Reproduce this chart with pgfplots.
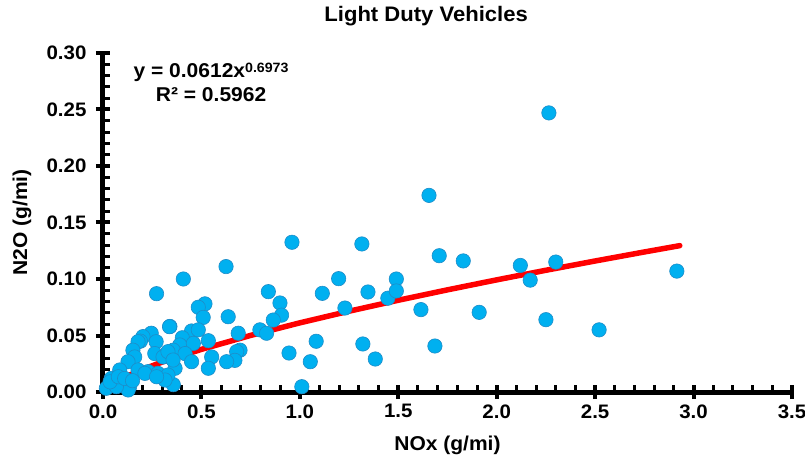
\documentclass[border=0pt]{standalone}
\usepackage{fontspec}
\setmainfont{Liberation Sans}[FakeStretch=1.05]
\usepackage{pgfplots}
\pgfplotsset{compat=1.18}
\definecolor{ptfill}{RGB}{0,176,240}
\definecolor{ptedge}{RGB}{30,140,200}
\definecolor{fitred}{RGB}{255,0,0}

% light duty vehicles, NOx vs N2O (g/mi)
\pgfplotstableread{
x y
2.265 0.247
1.656 0.174
2.915 0.107
2.30 0.115
2.12 0.112
2.17 0.099
2.25 0.064
2.52 0.055
1.911 0.0705
0.96 0.1325
1.315 0.131
1.708 0.1206
1.83 0.116
1.197 0.1003
1.49 0.100
1.114 0.0873
1.346 0.0885
1.447 0.083
1.49 0.0894
1.229 0.0743
1.615 0.0729
0.945 0.0345
1.083 0.0449
1.053 0.0268
1.32 0.0425
1.383 0.0292
1.686 0.0407
1.01 0.0047
0.899 0.0788
0.907 0.068
0.865 0.0637
0.84 0.0888
0.797 0.055
0.831 0.052
0.625 0.111
0.408 0.100
0.272 0.087
0.518 0.078
0.484 0.075
0.509 0.066
0.636 0.0666
0.34 0.058
0.45 0.054
0.484 0.055
0.403 0.048
0.687 0.052
0.696 0.037
0.39 0.0416
0.459 0.043
0.535 0.0454
0.357 0.037
0.417 0.034
0.45 0.0268
0.552 0.031
0.679 0.0357
0.67 0.028
0.628 0.0268
0.535 0.021
0.366 0.021
0.357 0.0065
0.338 0.0578
0.245 0.052
0.203 0.049
0.19 0.045
0.27 0.0445
0.178 0.0445
0.152 0.037
0.161 0.031
0.263 0.034
0.305 0.031
0.33 0.0357
0.356 0.0283
0.127 0.0268
0.085 0.0195
0.178 0.0195
0.229 0.018
0.279 0.0165
0.33 0.015
0.315 0.0106
0.042 0.012
0.093 0.0077
0.135 0.0047
0.128 0.0018
0.017 0.0033
0.068 0.0047
0.036 0.009
0.078 0.0135
0.213 0.0165
0.272 0.0135
0.11 0.012
0.15 0.010
}\ldvdata

% power trendline y = 0.0612 x^0.6973, tabulated
\pgfplotstableread{
x y
0.015 0.00327
0.03 0.00531
0.05 0.00758
0.1 0.01229
0.2 0.01992
0.3 0.02643
0.5 0.03775
0.75 0.05007
1.0 0.06120
1.25 0.07151
1.5 0.08120
1.75 0.09041
2.0 0.09924
2.25 0.10773
2.5 0.11594
2.75 0.12392
2.93 0.12952
}\fitdata

\begin{document}
\begin{tikzpicture}
\useasboundingbox (-103pt,-68pt) rectangle (702pt,392pt);
\begin{axis}[
  at={(0pt,0pt)}, anchor=origin,
  scale only axis, width=689pt, height=339pt,
  xmin=0, xmax=3.5, ymin=0, ymax=0.3,
  clip=false,
  axis x line*=bottom, axis y line*=left,
  axis line style={line width=5pt, black, -},
  xtick={0,0.5,1,1.5,2,2.5,3,3.5},
  ytick={0,0.05,0.1,0.15,0.2,0.25,0.3},
  minor x tick num=4, minor y tick num=4,
  tick align=center,
  major tick length=14pt, minor tick length=7pt,
  major tick style={line width=4pt, black},
  minor tick style={line width=3pt, black},
  every minor x tick/.append style={yshift=3.5pt},
  every minor y tick/.append style={xshift=3.5pt},
  /pgf/number format/assume math mode=true,
  x tick label style={/pgf/number format/fixed, /pgf/number format/fixed zerofill,
    /pgf/number format/precision=1, yshift=-2pt},
  y tick label style={/pgf/number format/fixed, /pgf/number format/fixed zerofill,
    /pgf/number format/precision=2, xshift=-6pt},
  tick label style={font=\fontsize{19.5}{22}\selectfont\bfseries},
  title={Light Duty Vehicles},
  title style={at={(axis description cs:0.469,1.091)}, anchor=center,
    font=\fontsize{21}{24}\selectfont\bfseries},
  xlabel={NOx (g/mi)},
  xlabel style={at={(axis description cs:0.5,-0.1563)}, anchor=center,
    font=\fontsize{20}{23}\selectfont\bfseries},
  ylabel={N2O (g/mi)},
  ylabel style={at={(axis description cs:-0.1176,0.5)}, anchor=center,
    font=\fontsize{20}{23}\selectfont\bfseries},
]
\addplot[only marks, mark=*, mark size=7.2pt,
  mark options={fill=ptfill, draw=ptedge, line width=0.6pt}] table {\ldvdata};
\addplot[fitred, line width=5.5pt, line cap=round, no marks] table {\fitdata};
\node[align=center, font=\fontsize{20}{24}\selectfont\bfseries]
  at (axis cs:0.549,0.274)
  {y = 0.0612x\raisebox{5.5pt}{\fontsize{13.5}{13.5}\selectfont 0.6973}\\R² = 0.5962};
\end{axis}
\end{tikzpicture}
\end{document}
